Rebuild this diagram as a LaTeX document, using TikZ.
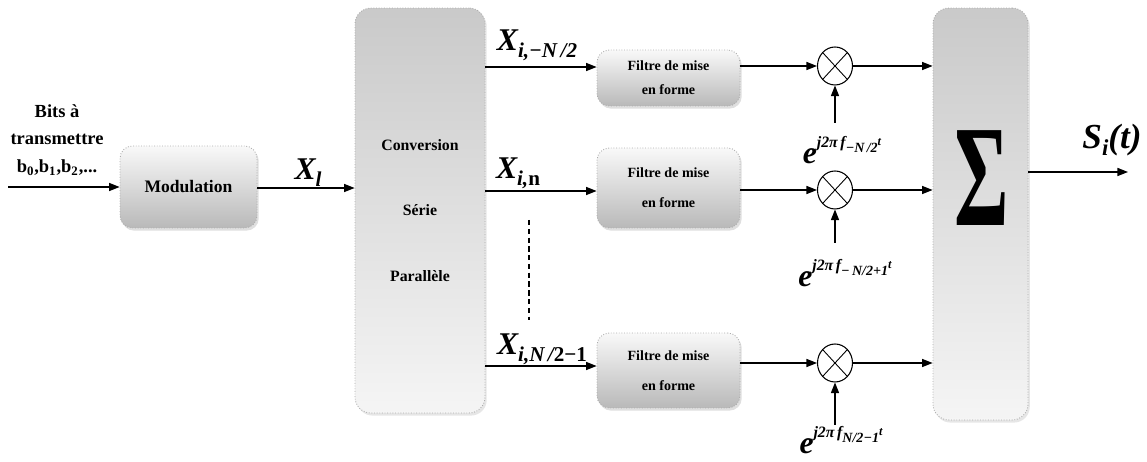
\documentclass[tikz,border=0pt]{standalone}
\usepackage{fontspec}
\setmainfont{Liberation Serif}
\usepackage{graphicx}
\usetikzlibrary{arrows.meta,shapes.geometric,shadows}

% subscript and exponent helpers for the signal labels
\newcommand{\lowsub}[1]{\raisebox{-4pt}{\fontsize{12}{12}\selectfont\bfseries #1}}
\newcommand{\bigX}{{\fontsize{18}{18}\selectfont\bfseries\itshape X}}
\newcommand{\carrier}[1]{{\fontsize{18}{18}\selectfont\bfseries\itshape e}\raisebox{9pt}{\fontsize{9}{9}\selectfont\bfseries\itshape j2π\,f\raisebox{-3pt}{\fontsize{8}{8}\selectfont #1}\raisebox{1pt}{\fontsize{7}{7}\selectfont t}}}

\begin{document}
\begin{tikzpicture}[x=0.02cm,y=-0.02cm,
  arr/.style={-{Triangle[length=6pt,width=4.6pt]},line width=0.7pt},
  softbox/.style={draw=gray!65,densely dotted,line width=0.5pt,rounded corners=7pt,
    top color=gray!5,bottom color=gray!55,
    drop shadow={opacity=0.25,shadow xshift=1pt,shadow yshift=-1.5pt},
    align=center,inner sep=0pt},
  tallbox/.style={draw=gray!65,densely dotted,line width=0.5pt,rounded corners=9pt,
    top color=gray!42,bottom color=gray!8,
    drop shadow={opacity=0.2,shadow xshift=1pt,shadow yshift=-1.5pt},
    align=center,inner sep=0pt},
  mult/.style={ellipse,draw,line width=0.6pt,minimum width=0.7cm,minimum height=0.76cm,inner sep=0pt,
    path picture={\draw[line width=0.5pt] (path picture bounding box.north west)--(path picture bounding box.south east)
      (path picture bounding box.north east)--(path picture bounding box.south west);}},
  lbl/.style={inner sep=0pt,font=\bfseries},
]
\useasboundingbox (0,0) rectangle (1147,462);

% input text
\node[lbl,align=center,font=\fontsize{10.5}{15.5}\selectfont\bfseries] (bits) at (57,140)
  {Bits à\\transmettre\\b\textsubscript{0},b\textsubscript{1},b\textsubscript{2},...};
\coordinate (in) at (8,187);

% blocks
\node[softbox,minimum width=2.74cm,minimum height=1.64cm,font=\fontsize{10}{12}\selectfont\bfseries] (mod) at (188.5,187) {Modulation};
\node[tallbox,minimum width=2.6cm,minimum height=8.1cm,font=\fontsize{9}{11}\selectfont\bfseries] (conv) at (420,210.5)
  {Conversion\\[26.5pt]Série\\[26.5pt]Parallèle};

\node[softbox,minimum width=2.86cm,minimum height=1.12cm,font=\fontsize{8}{9.6}\selectfont\bfseries] (f1) at (668.5,78)
  {Filtre de mise\\[4pt]en forme};
\node[softbox,minimum width=2.86cm,minimum height=1.6cm,font=\fontsize{8}{9.6}\selectfont\bfseries] (f2) at (668.5,188)
  {Filtre de mise\\[7.5pt]en forme};
\node[softbox,minimum width=2.86cm,minimum height=1.5cm,font=\fontsize{8}{9.6}\selectfont\bfseries] (f3) at (668.5,370.5)
  {Filtre de mise\\[7.5pt]en forme};

\node[mult] (m1) at (835,66) {};
\node[mult] (m2) at (835,190) {};
\node[mult] (m3) at (835,363) {};

\node[tallbox,minimum width=1.9cm,minimum height=8.24cm] (sig) at (980.5,214) {};
\node[inner sep=0pt] (sum) at (982,178) {\resizebox{31pt}{54pt}{\bfseries Σ}};

% carrier labels and their feed points
\node[lbl] (e1) at (842,150) {\carrier{−N\,/2}};
\node[lbl] (e2) at (845,273) {\carrier{−\,N/2+1}};
\node[lbl] (e3) at (841,440) {\carrier{N/2−1}};
\coordinate (v1) at (835,123);
\coordinate (v2) at (835,243);
\coordinate (v3) at (835,425);

% output
\coordinate (out) at (1128,172);
\node[lbl] (s) at (1112,140) {{\fontsize{20}{20}\selectfont\bfseries\itshape S\raisebox{-4pt}{\fontsize{13}{13}\selectfont i}(t)}};

% signal labels
\node[lbl] (xl) at (308,173) {\bigX\lowsub{\itshape l}};
\node[lbl] (x1) at (537,45) {\bigX\lowsub{\itshape i,−N\,/2}};
\node[lbl] (x2) at (518,173) {\bigX\lowsub{\itshape i,\upshape n}};
\node[lbl] (x3) at (542,349) {\bigX\lowsub{\itshape i,N\,/\upshape 2−1}};

% connectors
\draw[arr] (in) -- (mod.west |- in);
\draw[arr] (mod.east |- 0,188) -- (conv.west |- 0,188);
\draw[arr] (conv.east |- 0,67) -- (f1.west |- 0,67);
\draw[arr] (conv.east |- 0,191) -- (f2.west |- 0,191);
\draw[arr] (conv.east |- 0,366) -- (f3.west |- 0,366);
\draw[line width=0.6pt,dash pattern=on 3pt off 2pt] (529,220) -- (529,320);

\draw[arr] (f1.east |- m1.west) -- (m1.west);
\draw[arr] (f2.east |- m2.west) -- (m2.west);
\draw[arr] (f3.east |- m3.west) -- (m3.west);

\draw[arr] (v1) -- (m1.south);
\draw[arr] (v2) -- (m2.south);
\draw[arr] (v3) -- (m3.south);

\draw[arr] (m1.east) -- (sig.west |- m1.east);
\draw[arr] (m2.east) -- (sig.west |- m2.east);
\draw[arr] (m3.east) -- (sig.west |- m3.east);

\draw[arr] (sig.east |- out) -- (out);
\end{tikzpicture}
\end{document}
